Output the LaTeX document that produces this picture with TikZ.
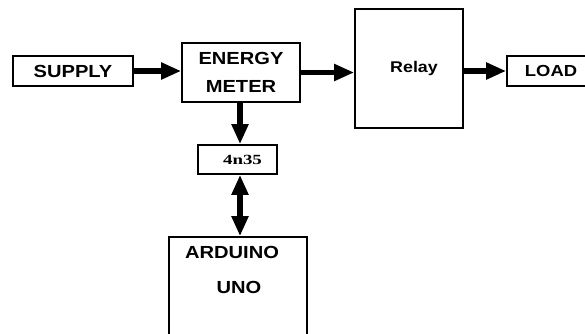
\documentclass[tikz,border=0pt]{standalone}
\usepackage{fontspec}
\usetikzlibrary{arrows.meta}
\newfontfamily\lblfont[FakeStretch=1.15]{Liberation Sans}
\newfontfamily\serfont[FakeStretch=1.35]{Liberation Serif}
\begin{document}
\begin{tikzpicture}[x=1pt,y=-1pt,
  box/.style={draw, line width=1.7pt, inner sep=0pt, font=\lblfont\bfseries\fontsize{17.5}{21}\selectfont},
  txt/.style={inner sep=0pt, font=\lblfont\bfseries\fontsize{17.5}{21}\selectfont},
  bigarrow/.style={line width=5.5pt, -{Triangle[length=20pt,width=16pt]}},
  dblarrow/.style={line width=5.5pt, {Triangle[length=20pt,width=16pt]}-{Triangle[length=20pt,width=16pt]}}]
\clip (0,0) rectangle (585,333);
\fill[white] (0,0) rectangle (585,333);
\node[box, minimum width=120pt, minimum height=30pt] (sup) at (73,71) {SUPPLY};
\node[box, minimum width=118pt, minimum height=59pt, align=center] (met) at (241,72.5) {ENERGY\\[7pt]METER};
\node[box, minimum width=108pt, minimum height=119pt, font=\lblfont\bfseries\fontsize{15.5}{18}\selectfont] (rel) at (409,68.5) {\hspace{10pt}Relay};
\node[box, minimum width=88pt, minimum height=30pt, font=\lblfont\bfseries\fontsize{16}{19}\selectfont] (load) at (551,71) {LOAD};
\node[box, minimum width=79pt, minimum height=29pt, font=\serfont\bfseries\fontsize{14}{16}\selectfont] (opto) at (237.5,159.5) {\hspace{10pt}4n35};
\node[box, minimum width=138pt, minimum height=110pt] (ard) at (238,292) {};
\node[txt] (ardt) at (232,252) {ARDUINO};
\node[txt] (unot) at (239,287) {UNO};
\draw[bigarrow] (sup.east) -- (met.west |- sup.east);
\draw[bigarrow] (met.east) -- (rel.west |- met.east);
\draw[bigarrow] (rel.east |- load.west) -- (load.west);
\draw[bigarrow] (met.south -| 240,0) -- (opto.north -| 240,0);
\draw[dblarrow] (opto.south -| 240,0) -- (ard.north -| 240,0);
\end{tikzpicture}
\end{document}
